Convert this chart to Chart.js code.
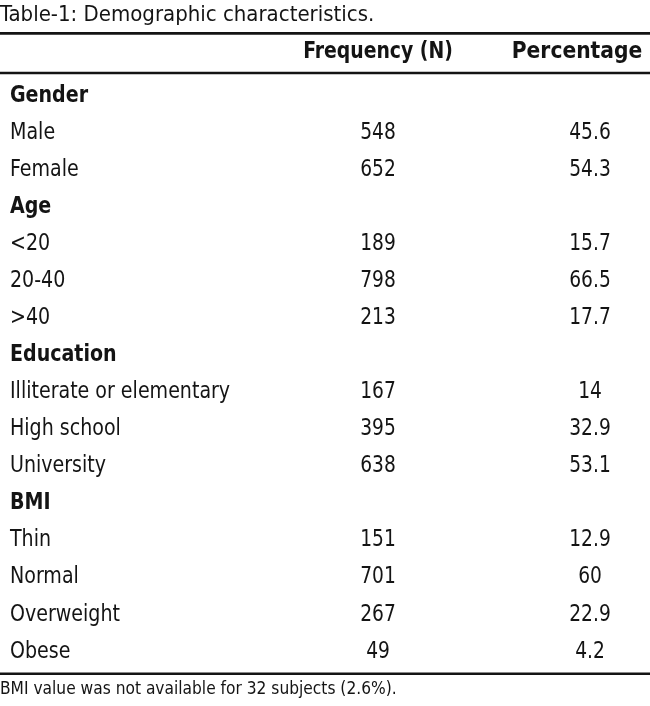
<!DOCTYPE html>
<html>
<head>
<meta charset="utf-8">
<script src="https://cdn.jsdelivr.net/npm/chart.js@4/dist/chart.umd.min.js"></script>
<style>
  html, body { margin: 0; padding: 0; background: #fff; }
  #wrap { width: 650px; height: 706px; position: relative; }
</style>
</head>
<body>
<div id="wrap"><canvas id="c"></canvas></div>
<script>
const titleText = 'Table-1: Demographic characteristics.';
const footnoteText = 'BMI value was not available for 32 subjects (2.6%).';
const columnHeaders = ['', 'Frequency (N)', 'Percentage'];
const rowLabels = ['Gender', 'Male', 'Female', 'Age', '<20', '20-40', '>40',
  'Education', 'Illiterate or elementary', 'High school', 'University',
  'BMI', 'Thin', 'Normal', 'Overweight', 'Obese'];
const groupRows = [true, false, false, true, false, false, false,
  true, false, false, false, true, false, false, false, false];
const frequency = [null, 548, 652, null, 189, 798, 213, null, 167, 395, 638, null, 151, 701, 267, 49];
const percentage = [null, 45.6, 54.3, null, 15.7, 66.5, 17.7, null, 14, 32.9, 53.1, null, 12.9, 60, 22.9, 4.2];

const FONT = "'Liberation Sans Narrow', 'DejaVu Sans Condensed', 'Arial Narrow', sans-serif";
const INK = '#141414';
const COL_X = { label: 10, freq: 378, pct: 590 };
const HEAD_X = { freq: 378, pct: 577 };

function squeezeText(ctx, text, x, y, sx, align) {
  ctx.save();
  ctx.translate(x, y);
  ctx.scale(sx, 1);
  ctx.textAlign = align;
  ctx.fillText(text, 0, 0);
  ctx.restore();
}

const tablePlugin = {
  id: 'tableText',
  afterDatasetsDraw(chart) {
    const ctx = chart.ctx;
    const ys = chart.scales.y;
    const xs = chart.scales.x;
    const area = chart.chartArea;
    ctx.save();
    ctx.fillStyle = INK;
    ctx.strokeStyle = INK;
    const rule = (y, w) => {
      ctx.lineWidth = w;
      ctx.beginPath();
      ctx.moveTo(area.left, y);
      ctx.lineTo(area.right, y);
      ctx.stroke();
    };
    rule(ys.getPixelForValue(-1.69), 2.6);
    rule(ys.getPixelForValue(-0.62), 2.6);
    rule(ys.getPixelForValue(15.6), 2.6);
    ctx.textBaseline = 'middle';
    ctx.font = 'bold 23px ' + FONT;
    const hy = ys.getPixelForValue(-1.19);
    squeezeText(ctx, columnHeaders[1], xs.getPixelForValue(HEAD_X.freq), hy, 0.91, 'center');
    squeezeText(ctx, columnHeaders[2], xs.getPixelForValue(HEAD_X.pct), hy, 0.98, 'center');
    chart.data.datasets.forEach((ds, di) => {
      const meta = chart.getDatasetMeta(di);
      meta.data.forEach((pt, i) => {
        const raw = ds.data[i];
        if (!raw || raw.y == null) return;
        if (ds.kind === 'label') {
          ctx.font = (groupRows[raw.row] ? 'bold ' : '') + '23px ' + FONT;
          squeezeText(ctx, rowLabels[raw.row], pt.x, pt.y, 0.92, 'left');
        } else {
          if (raw.v == null) return;
          ctx.font = '23px ' + FONT;
          squeezeText(ctx, String(raw.v), pt.x, pt.y, 0.9, 'center');
        }
      });
    });
    ctx.restore();
  }
};

const labelData = rowLabels.map((l, i) => ({ x: COL_X.label, y: i, row: i }));
const freqData = frequency.map((v, i) => ({ x: COL_X.freq, y: v == null ? null : i, v: v }));
const pctData = percentage.map((v, i) => ({ x: COL_X.pct, y: v == null ? null : i, v: v }));

new Chart(document.getElementById('c'), {
  type: 'scatter',
  data: {
    datasets: [
      { kind: 'label', label: columnHeaders[0], data: labelData, pointRadius: 0, pointHoverRadius: 0 },
      { kind: 'value', label: columnHeaders[1], data: freqData, pointRadius: 0, pointHoverRadius: 0 },
      { kind: 'value', label: columnHeaders[2], data: pctData, pointRadius: 0, pointHoverRadius: 0 }
    ]
  },
  options: {
    responsive: true,
    maintainAspectRatio: false,
    animation: false,
    events: [],
    layout: { padding: { left: 0, right: 0, top: 0, bottom: 0 } },
    scales: {
      x: { type: 'linear', min: 0, max: 650, display: false },
      y: { type: 'linear', min: -1.70, max: 15.63, reverse: true, display: false }
    },
    plugins: {
      legend: { display: false },
      tooltip: { enabled: false },
      title: {
        display: true,
        text: titleText,
        align: 'start',
        color: INK,
        font: { family: FONT, size: 22, weight: 'normal', lineHeight: 1.2 },
        padding: { top: 2, bottom: 4.6 }
      },
      subtitle: {
        display: true,
        position: 'bottom',
        text: footnoteText,
        align: 'start',
        color: INK,
        font: { family: FONT, size: 17.2, weight: 'normal', lineHeight: 1.4 },
        padding: { top: 3, bottom: 4 }
      }
    }
  },
  plugins: [tablePlugin]
});
</script>
</body>
</html>
